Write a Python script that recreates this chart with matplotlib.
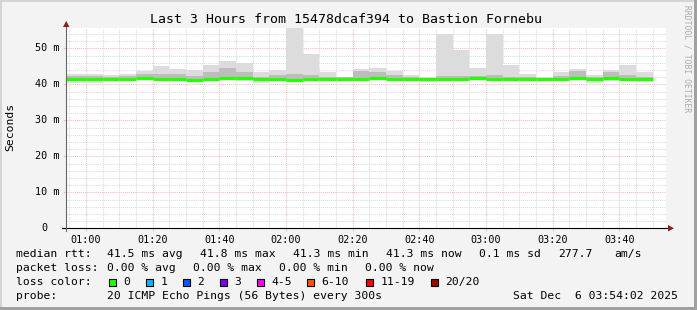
import matplotlib
matplotlib.use("Agg")
import matplotlib.pyplot as plt
from matplotlib.patches import Rectangle, Polygon

# smokeping rrd, 5 minute steps (ms)
bin_start = ["00:55", "01:00", "01:05", "01:10", "01:15", "01:20", "01:25",
             "01:30", "01:35", "01:40", "01:45", "01:50", "01:55", "02:00",
             "02:05", "02:10", "02:15", "02:20", "02:25", "02:30", "02:35",
             "02:40", "02:45", "02:50", "02:55", "03:00", "03:05", "03:10",
             "03:15", "03:20", "03:25", "03:30", "03:35", "03:40", "03:45"]
ping_max = [43.0, 43.0, 42.7, 43.0, 43.8, 45.2, 44.3, 44.0, 45.5, 46.5, 46.0,
            43.5, 44.0, 58.0, 48.5, 43.5, 42.1, 44.2, 44.6, 43.8, 42.6, 42.0,
            54.0, 49.6, 44.4, 54.0, 45.4, 42.9, 42.1, 43.5, 44.3, 42.6, 44.0,
            45.4, 43.3]
ping_min = [40.3, 40.5, 41.0, 41.0, 41.1, 40.9, 41.1, 40.9, 41.2, 41.2, 40.8,
            40.3, 41.0, 41.0, 41.2, 41.2, 40.9, 41.0, 41.2, 41.2, 41.0, 40.6,
            41.2, 41.2, 41.2, 41.2, 41.2, 41.2, 41.2, 40.8, 41.2, 40.5, 41.0,
            41.2, 40.6]
band_lo = [41.0, 41.2, 41.3, 41.3, 41.4, 41.1, 41.3, 41.0, 41.4, 41.5, 41.3,
           41.1, 41.3, 41.1, 41.3, 41.3, 41.2, 41.2, 41.5, 41.3, 41.2, 41.1,
           41.3, 41.3, 41.5, 41.3, 41.3, 41.3, 41.3, 41.2, 41.5, 41.2, 41.4,
           41.4, 41.2]
band_hi = [42.3, 42.2, 42.1, 42.2, 42.9, 42.8, 43.0, 42.4, 43.3, 44.4, 43.5,
           42.0, 42.6, 43.0, 42.5, 42.1, 41.9, 43.8, 43.5, 42.5, 42.0, 41.8,
           42.3, 42.4, 42.3, 42.5, 42.0, 41.9, 41.8, 42.3, 43.6, 42.0, 43.3,
           42.6, 42.1]
median_rtt = [41.4, 41.6, 41.6, 41.6, 41.7, 41.6, 41.6, 41.2, 41.6, 41.8, 41.7,
              41.5, 41.6, 41.3, 41.5, 41.5, 41.5, 41.4, 41.8, 41.5, 41.4, 41.4,
              41.5, 41.5, 41.8, 41.5, 41.5, 41.5, 41.5, 41.6, 41.8, 41.6, 41.8,
              41.6, 41.5]

y_ticks = [0, 10, 20, 30, 40, 50]
y_tick_labels = ["0", "10 m", "20 m", "30 m", "40 m", "50 m"]
x_tick_labels = ["01:00", "01:20", "01:40", "02:00", "02:20", "02:40",
                 "03:00", "03:20", "03:40"]

loss_labels = ["0", "1", "2", "3", "4-5", "6-10", "11-19", "20/20"]
loss_colors = ["#26ff00", "#00b8ff", "#0059ff", "#7e00ff", "#ff00ff",
               "#ff5500", "#ff0000", "#a10000"]

title = "Last 3 Hours from 15478dcaf394 to Bastion Fornebu"
graph_end = "03:54:02"

W, H = 697, 310
MONO = "DejaVu Sans Mono"
MGRID = "#f6bcbc"
GRID = "#dadada"


def to_min(s):
    parts = [int(p) for p in s.split(":")]
    return parts[0] * 60 + parts[1] + (parts[2] / 60.0 if len(parts) > 2 else 0)


def fx(x):
    return x / W


def fy(y):
    return 1 - y / H


x_right = to_min(graph_end)
x_left = x_right - 180

edges = [to_min(t) for t in bin_start]
edges.append(edges[-1] + 5)
edges[0] = x_left

fig = plt.figure(figsize=(W / 100, H / 100), dpi=100, facecolor="#f3f3f3")

# frame like rrdtool's canvas
fig.add_artist(Rectangle((0, fy(2)), 1, 2 / H, transform=fig.transFigure, color="#d4d4d4", lw=0))
fig.add_artist(Rectangle((0, 0), 2 / W, 1, transform=fig.transFigure, color="#d4d4d4", lw=0))
fig.add_artist(Rectangle((0, 0), 1, 3 / H, transform=fig.transFigure, color="#a0a0a0", lw=0))
fig.add_artist(Rectangle((1 - 3 / W, 0), 3 / W, 1, transform=fig.transFigure, color="#a0a0a0", lw=0))

ax = fig.add_axes([fx(66), fy(228.3), 600 / W, 200 / H])
ax.set_xlim(x_left, x_right)
ax.set_ylim(0, 55.56)
for s in ax.spines.values():
    s.set_visible(False)

# grid
for m in range(int(x_left) + 1, int(x_right) + 1):
    if m % 20 == 0:
        ax.axvline(m, color=MGRID, lw=0.75, ls=(0, (1, 1)), zorder=1)
    elif m % 5 == 0:
        ax.axvline(m, color=GRID, lw=0.75, ls=(0, (1, 1)), zorder=0.5)
for v in range(2, 56, 2):
    if v % 10 == 0:
        ax.axhline(v, color=MGRID, lw=0.75, ls=(0, (1, 1)), zorder=1)
    else:
        ax.axhline(v, color=GRID, lw=0.75, ls=(0, (1, 1)), zorder=0.5)

# smoke
ax.stairs(ping_max, edges, baseline=ping_min, fill=True, color="#dcdcdc", lw=0, zorder=2)
ax.stairs(band_hi, edges, baseline=band_lo, fill=True, color="#bdbdbd", lw=0, zorder=3)
ax.hlines(median_rtt, edges[:-1], edges[1:], color=loss_colors[0], lw=2.3, zorder=4)

# axes lines + arrows
ax.plot([x_left - 1.1, x_right + 0.9], [0, 0], color="black", lw=0.8, clip_on=False, zorder=5)
ax.plot([x_left, x_left], [-0.8, 57.3], color="#666666", lw=0.8, clip_on=False, zorder=5)
fig.add_artist(Polygon([(fx(668), fy(225)), (fx(668), fy(231.5)), (fx(674), fy(228.3))],
                       closed=True, transform=fig.transFigure, color="#8f1d1d", lw=0))
fig.add_artist(Polygon([(fx(63), fy(27)), (fx(69.5), fy(27)), (fx(66.2), fy(21))],
                       closed=True, transform=fig.transFigure, color="#8f1d1d", lw=0))

major_x = [to_min(t) for t in x_tick_labels]
ax.set_xticks(major_x)
ax.set_xticklabels(x_tick_labels, fontfamily=MONO, fontsize=7.3)
ax.set_yticks(y_ticks)
ax.set_yticklabels([])
ax.tick_params(axis="x", length=2.2, width=0.8, color=MGRID, pad=2.5)
ax.tick_params(axis="y", length=2.2, width=0.8, color=MGRID)
ax.set_facecolor("white")

for v, lab in zip(y_ticks, y_tick_labels):
    right = 59.5 if " " in lab else 47.0
    ypix = 228.3 - v * 3.6
    fig.text(fx(right), fy(ypix), lab, ha="right", va="center", fontfamily=MONO, fontsize=7.3)

fig.text(fx(346), fy(19.5), title, ha="center", va="center", fontfamily=MONO, fontsize=9.5)
fig.text(fx(10), fy(127), "Seconds", ha="center", va="center", rotation=90, fontfamily=MONO, fontsize=8.2)
fig.text(fx(687.5), fy(5), "RRDTOOL / TOBI OETIKER", ha="center", va="top", rotation=270,
         fontfamily=MONO, fontsize=5.8, color="#aaaaaa")

# legend block
rows = [
    (254.3, [(16, "median rtt:"), (107.3, "41.5 ms avg"), (200, "41.8 ms max"),
             (292.7, "41.3 ms min"), (386, "41.3 ms now"), (479.3, "0.1 ms sd"),
             (558.3, "277.7"), (614.3, "am/s")]),
    (268.3, [(16, "packet loss:"), (107.3, "0.00 % avg"), (193.3, "0.00 % max"),
             (279.3, "0.00 % min"), (365.3, "0.00 % now")]),
    (282.3, [(16, "loss color:")]),
    (296.3, [(16, "probe:"), (107.3, "20 ICMP Echo Pings (56 Bytes) every 300s"),
             (513.3, "Sat Dec  6 " + graph_end + " 2025")]),
]
for ypix, segs in rows:
    for xpix, s in segs:
        fig.text(fx(xpix), fy(ypix), s, ha="left", va="center", fontfamily=MONO, fontsize=8.2)

box_x = [108.7, 145.7, 182.7, 219.7, 256.7, 307.0, 365.7, 430.7]
for bx, lab, col in zip(box_x, loss_labels, loss_colors):
    fig.add_artist(Rectangle((fx(bx), fy(286)), 7.3 / W, 7.3 / H, transform=fig.transFigure,
                             facecolor=col, edgecolor="black", lw=0.8))
    fig.text(fx(bx + 14.6), fy(282.3), lab, ha="left", va="center", fontfamily=MONO, fontsize=8.2)

fig.savefig("out.png", dpi=100, facecolor=fig.get_facecolor())
